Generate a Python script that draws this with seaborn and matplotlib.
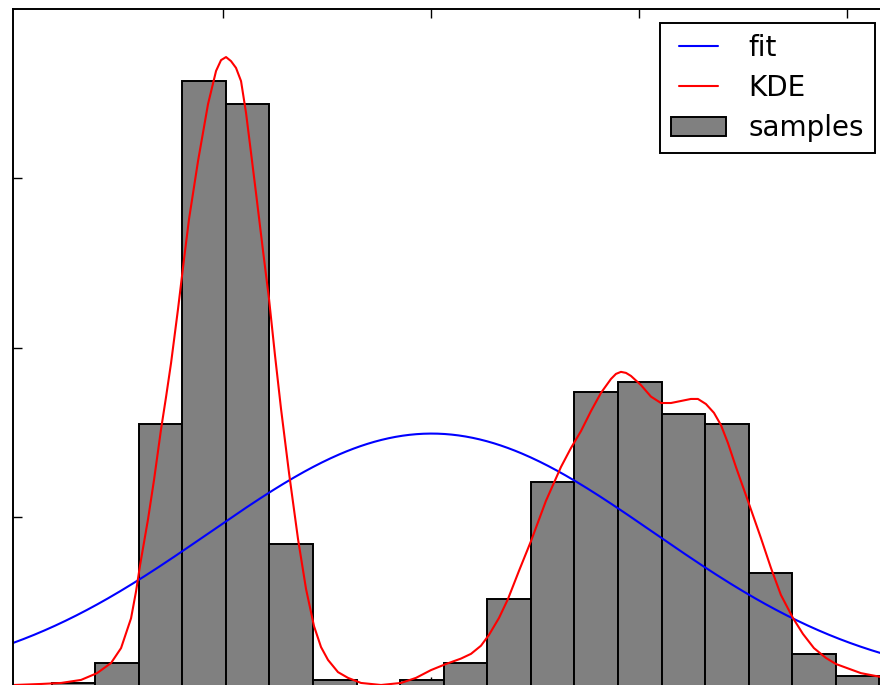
import numpy as np
import pandas as pd
import matplotlib
matplotlib.use("Agg")
import matplotlib.pyplot as plt
import seaborn as sns

# Histogram of 1000 samples in 19 equal-width bins
bin_lo, bin_hi = -9.12, 10.78
sample_counts = [1, 7, 81, 187, 180, 44, 2, 0, 2, 7, 27, 63, 91, 94, 84, 81, 35, 10, 3]

# Kernel density estimate of the same samples
kde_x = [-10.024, -9.375, -8.894, -8.413, -8.029, -7.692, -7.452, -7.212, -7.091,
         -6.995, -6.803, -6.659, -6.490, -6.370, -6.250, -6.082, -5.938, -5.817,
         -5.601, -5.361, -5.168, -5.048, -4.928, -4.808, -4.688, -4.567, -4.447,
         -4.327, -4.207, -4.038, -3.894, -3.750, -3.606, -3.413, -3.197, -3.005,
         -2.813, -2.644, -2.476, -2.236, -1.995, -1.683, -1.202, -0.721, -0.361,
         0.000, 0.361, 0.721, 0.962, 1.202, 1.394, 1.635, 1.851, 2.115, 2.404,
         2.764, 3.125, 3.365, 3.606, 3.846, 4.087, 4.327, 4.447, 4.567, 4.688,
         4.808, 5.048, 5.288, 5.529, 5.769, 6.010, 6.250, 6.418, 6.611, 6.803,
         6.971, 7.139, 7.332, 7.620, 7.933, 8.173, 8.413, 8.702, 8.942, 9.207,
         9.495, 9.736, 10.337, 11.058]
kde_y = [0.0003, 0.0006, 0.0009, 0.0018, 0.0038, 0.0068, 0.0112, 0.0200, 0.0280,
         0.0357, 0.0493, 0.0609, 0.0759, 0.0854, 0.0954, 0.1114, 0.1261, 0.1380,
         0.1551, 0.1719, 0.1817, 0.1849, 0.1858, 0.1846, 0.1826, 0.1787, 0.1693,
         0.1575, 0.1456, 0.1285, 0.1143, 0.0976, 0.0819, 0.0629, 0.0434, 0.0287,
         0.0177, 0.0115, 0.0077, 0.0041, 0.0024, 0.0009, 0.0003, 0.0009, 0.0024,
         0.0047, 0.0065, 0.0081, 0.0095, 0.0119, 0.0151, 0.0201, 0.0257, 0.0340,
         0.0428, 0.0547, 0.0647, 0.0703, 0.0753, 0.0812, 0.0866, 0.0907, 0.0922,
         0.0928, 0.0925, 0.0916, 0.0889, 0.0855, 0.0836, 0.0836, 0.0842, 0.0848,
         0.0848, 0.0833, 0.0807, 0.0771, 0.0718, 0.0647, 0.0547, 0.0437, 0.0349,
         0.0269, 0.0201, 0.0154, 0.0112, 0.0083, 0.0065, 0.0038, 0.0021]

x_limits = (-10.05, 11.0)
y_limits = (0.0, 0.2)

sns.set_style("ticks")
plt.rcParams["font.family"] = ["DejaVu Sans"]
plt.rcParams["text.color"] = "black"

edges = np.linspace(bin_lo, bin_hi, len(sample_counts) + 1)
centers = 0.5 * (edges[:-1] + edges[1:])
counts = np.asarray(sample_counts, dtype=float)
hist_df = pd.DataFrame({"value": centers, "count": counts})

# Normal fit: mean and standard deviation of the binned samples
mu = np.average(centers, weights=counts)
sigma = np.sqrt(np.average((centers - mu) ** 2, weights=counts))
x_fit = np.linspace(x_limits[0], x_limits[1], 500)
y_fit = np.exp(-0.5 * ((x_fit - mu) / sigma) ** 2) / (sigma * np.sqrt(2 * np.pi))

fig = plt.figure(figsize=(8.8, 6.85), dpi=100)
ax = fig.add_axes([13 / 880, -1 / 685, 875.5 / 880, 677 / 685])

sns.histplot(data=hist_df, x="value", weights="count", bins=list(edges),
             stat="density", color="#808080", edgecolor="black",
             linewidth=1.4, alpha=1.0, label="samples", ax=ax)
sns.lineplot(x=x_fit, y=y_fit, color="blue", linewidth=1.5, label="fit", ax=ax)
sns.lineplot(x=kde_x, y=kde_y, color="red", linewidth=1.5, label="KDE", ax=ax)

ax.set_xlim(*x_limits)
ax.set_ylim(*y_limits)
ax.set_xticks([-5, 0, 5, 10])
ax.set_yticks([0.05, 0.10, 0.15])
ax.set_xlabel("")
ax.set_ylabel("")
ax.tick_params(direction="in", length=6.5, width=1.0, top=True, right=True,
               labelleft=False, labelbottom=False, color="black")
for spine in ax.spines.values():
    spine.set_linewidth(1.4)
    spine.set_color("black")

handles, labels = ax.get_legend_handles_labels()
lookup = dict(zip(labels, handles))
order = ["fit", "KDE", "samples"]
leg = ax.legend([lookup[k] for k in order], order, loc="upper right",
                bbox_to_anchor=(875 / 880, 1 - 23 / 685),
                bbox_transform=fig.transFigure, borderaxespad=0,
                frameon=True, fancybox=False, framealpha=1, edgecolor="black",
                fontsize=20, numpoints=2, handlelength=2.0,
                handletextpad=0.8, borderpad=0.4, labelspacing=0.43)
leg.get_frame().set_linewidth(1.4)
for txt in leg.get_texts():
    txt.set_color("black")

fig.savefig("out.png", dpi=100)
